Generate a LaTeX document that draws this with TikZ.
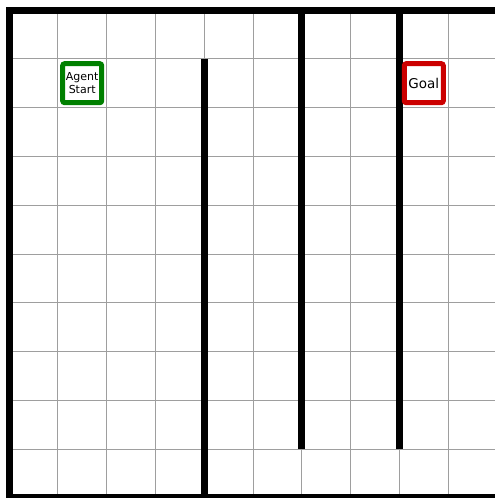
\documentclass[tikz,border=0pt]{standalone}
\usepackage{fontspec}
\setmainfont{DejaVu Sans}
\begin{document}
\begin{tikzpicture}[x=1pt,y=-1pt,
  gridline/.style={draw=black!38, line width=0.9pt},
  wall/.style={draw=black, line width=7pt, line cap=butt},
  border/.style={draw=black, line width=7pt, line cap=rect, line join=miter},
  marker/.style={draw, line width=5pt, rounded corners=2pt, fill=white, minimum width=39pt, minimum height=39pt, inner sep=0pt, align=center}]
\useasboundingbox (0,0) rectangle (495,498);
\fill[white] (0,0) rectangle (495,498);
\clip (0,0) rectangle (495,498);
\def\cs{48.8}
\foreach \k in {0,...,10} {
  \draw[gridline] ({9+\cs*\k},10) -- ({9+\cs*\k},498);
  \draw[gridline] (9,{10+\cs*\k}) -- (497,{10+\cs*\k});
}
% outer borders
\draw[border] (9,497) -- (9,10) -- (500,10);
\draw[border] (9,497) -- (500,497);
% inner walls
\draw[wall] ({9+\cs*4},{10+\cs*1}) -- ({9+\cs*4},500);
\draw[wall] ({9+\cs*6},10) -- ({9+\cs*6},{10+\cs*9});
\draw[wall] ({9+\cs*8},10) -- ({9+\cs*8},{10+\cs*9});
% markers
\node[marker, draw={rgb,255:red,0;green,128;blue,0}, font=\fontsize{11}{13}\selectfont] (start) at ({9+\cs*1.5},{10+\cs*1.5}) {Agent\\Start};
\node[marker, draw={rgb,255:red,204;green,0;blue,0}, font=\fontsize{13.5}{15}\selectfont] (goal) at ({9+\cs*8.5},{10+\cs*1.5}) {Goal};
\end{tikzpicture}
\end{document}
